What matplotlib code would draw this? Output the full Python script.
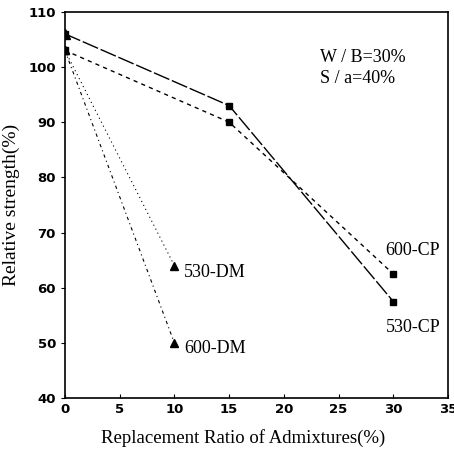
import matplotlib.pyplot as plt

# replacement ratio (%) and relative strength (%) per mix
x_cp = [0, 15, 30]
s530_cp = [106, 93, 57.5]
s600_cp = [103, 90, 62.5]
x_dm = [0, 10]
s530_dm = [103, 64]
s600_dm = [103, 50]

xticks = [0, 5, 10, 15, 20, 25, 30, 35]
yticks = [40, 50, 60, 70, 80, 90, 100, 110]

serif = "Liberation Serif"

fig = plt.figure(figsize=(4.54, 4.53), dpi=100)
ax = fig.add_axes([0.143, 0.121, 0.844, 0.853])

# CP series (squares), DM series (triangles)
ax.plot(x_cp, s530_cp, color="black", linewidth=1.0, linestyle=(0, (12, 2)),
        marker="s", markersize=5)
ax.plot(x_cp, s600_cp, color="black", linewidth=1.0, linestyle=(0, (3, 3)),
        marker="s", markersize=5)
ax.plot(x_dm, s530_dm, color="black", linewidth=0.8, linestyle=(0, (1, 3)),
        marker="^", markersize=6)
ax.plot(x_dm, s600_dm, color="black", linewidth=0.8, linestyle=(0, (3, 3, 1, 3)),
        marker="^", markersize=6)
ax.plot([0], [s530_cp[0]], color="black", marker="^", markersize=7)

ax.set_xlim(0, 35)
ax.set_ylim(40, 110)
ax.set_xticks(xticks)
ax.set_yticks(yticks)
ax.tick_params(axis="x", direction="in", length=3, labelsize=9.5)
ax.tick_params(axis="y", direction="out", length=3, labelsize=9.5)
for lab in ax.get_xticklabels() + ax.get_yticklabels():
    lab.set_fontweight("bold")

for sp in ax.spines.values():
    sp.set_linewidth(1.2)

ax.set_xlabel("Replacement Ratio of Admixtures(%)", fontfamily=serif, fontsize=13.5,
              va="center")
ax.xaxis.set_label_coords(0.465, -0.102)
ax.set_ylabel("Relative strength(%)", fontfamily=serif, fontsize=14, labelpad=6)

ax.text(23.3, 101.8, "W / B=30%", fontfamily=serif, fontsize=13, va="center")
ax.text(23.3, 98.0, "S / a=40%", fontfamily=serif, fontsize=13, va="center")
ax.text(29.3, 66.8, "600-CP", fontfamily=serif, fontsize=13, va="center")
ax.text(29.3, 52.8, "530-CP", fontfamily=serif, fontsize=13, va="center")
ax.text(10.9, 62.8, "530-DM", fontfamily=serif, fontsize=13, va="center")
ax.text(10.9, 49.0, "600-DM", fontfamily=serif, fontsize=13, va="center")

fig.savefig("out.png", dpi=100)
